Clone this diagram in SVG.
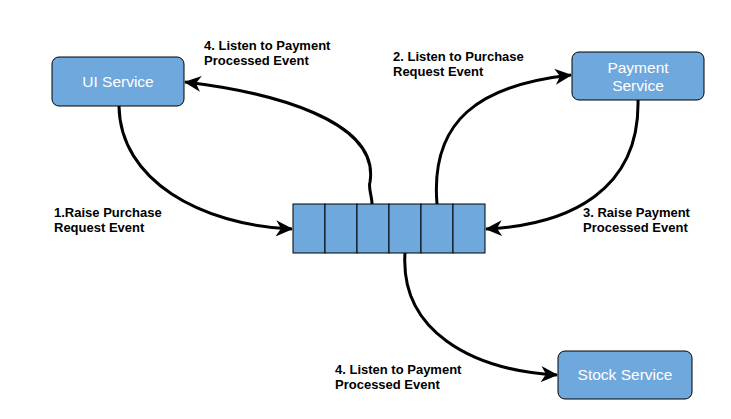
<svg xmlns="http://www.w3.org/2000/svg" width="731" height="419" viewBox="0 0 731 419">
<style>
.node{fill:#6FA8DC;stroke:#000;stroke-width:1}
.nt{fill:#fff;font-family:"Liberation Sans",Arial,sans-serif;font-size:15.5px;text-anchor:middle}
.lbl{fill:#000;font-family:"Liberation Sans",Arial,sans-serif;font-size:13px;font-weight:bold}
.conn{fill:none;stroke:#000;stroke-width:3;marker-end:url(#arr)}
</style>
<defs>
<marker id="arr" markerUnits="userSpaceOnUse" markerWidth="17" markerHeight="16" viewBox="0 0 17 16" refX="16" refY="8" orient="auto">
<path d="M0,0 L17,8 L0,16 L5,8 Z" fill="#000"/>
</marker>
</defs>
<rect width="731" height="419" fill="#fff"/>
<g id="connectors">
<path class="conn" d="M119,106 C120,180 200,225 292,229"/>
<path class="conn" d="M372,204 C372,196 368,188 370,182 C380,120 270,92 185,82"/>
<path class="conn" d="M437,204 C430,120 480,85 571,75"/>
<path class="conn" d="M638,100 C640,190 570,225 486,229"/>
<path class="conn" d="M405,253 C400,330 470,370 557,375"/>
</g>
<g id="ui-service">
<rect class="node" x="52" y="57" width="132" height="49" rx="7"/>
<text class="nt" x="118" y="87">UI Service</text>
</g>
<g id="payment-service">
<rect class="node" x="572" y="52" width="132" height="48" rx="7"/>
<text class="nt" x="638" y="73">Payment</text>
<text class="nt" x="638" y="91">Service</text>
</g>
<g id="stock-service">
<rect class="node" x="558" y="351" width="134" height="48" rx="7"/>
<text class="nt" x="625" y="380">Stock Service</text>
</g>
<g id="queue">
<rect class="node" x="293" y="204" width="32" height="49"/>
<rect class="node" x="325" y="204" width="32" height="49"/>
<rect class="node" x="357" y="204" width="32" height="49"/>
<rect class="node" x="389" y="204" width="32" height="49"/>
<rect class="node" x="421" y="204" width="32" height="49"/>
<rect class="node" x="453" y="204" width="32" height="49"/>
</g>
<g id="labels">
<text class="lbl" x="204" y="50">4. Listen to Payment</text>
<text class="lbl" x="204" y="65">Processed Event</text>
<text class="lbl" x="393" y="61">2. Listen to Purchase</text>
<text class="lbl" x="393" y="76">Request Event</text>
<text class="lbl" x="54" y="217">1.Raise Purchase</text>
<text class="lbl" x="54" y="232">Request Event</text>
<text class="lbl" x="583" y="217">3. Raise Payment</text>
<text class="lbl" x="583" y="232">Processed Event</text>
<text class="lbl" x="335" y="374">4. Listen to Payment</text>
<text class="lbl" x="335" y="389">Processed Event</text>
</g>
</svg>
